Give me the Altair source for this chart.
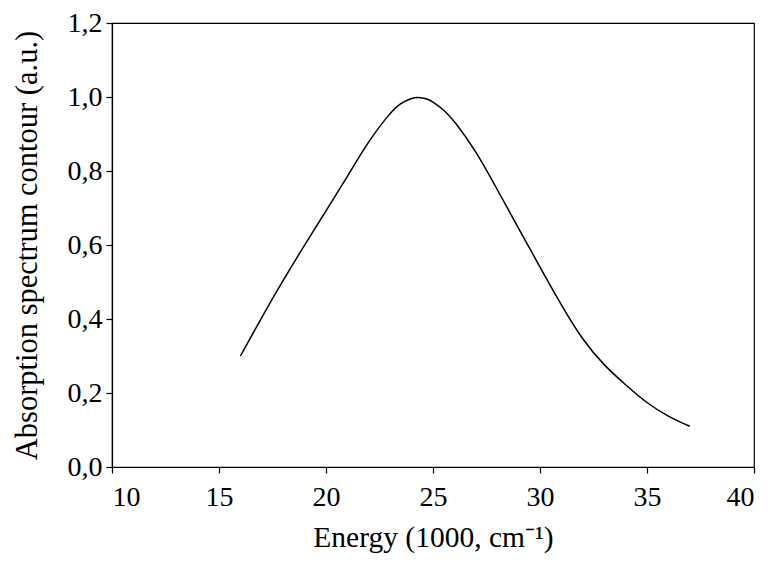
import altair as alt
import pandas as pd

energy = [16, 17, 18, 19, 20, 21, 22, 23, 23.5, 24, 24.3, 24.7, 25, 25.5, 26, 27, 28, 29, 30, 31, 32, 33, 34, 35, 36, 37]
absorb = [0.30, 0.405, 0.505, 0.60, 0.692, 0.785, 0.882, 0.958, 0.984, 0.997, 1.0, 0.996, 0.987, 0.966, 0.935, 0.855, 0.75, 0.645, 0.54, 0.437, 0.342, 0.274, 0.222, 0.172, 0.136, 0.11]

df = pd.DataFrame({"energy": energy, "absorb": absorb})

FONT = "Liberation Serif"

chart = alt.Chart(df).mark_line(color="black", strokeWidth=1.5, interpolate="basis").encode(
    x=alt.X("energy:Q",
            scale=alt.Scale(domain=[10, 40], nice=False, zero=False),
            axis=alt.Axis(values=[10, 15, 20, 25, 30, 35, 40], title="Energy (1000, cm⁻¹)",
                          grid=False, labelFontSize=28, titleFontSize=29.5, titlePadding=12,
                          labelPadding=10, tickSize=6)),
    y=alt.Y("absorb:Q",
            scale=alt.Scale(domain=[0, 1.2], nice=False),
            axis=alt.Axis(values=[0, 0.2, 0.4, 0.6, 0.8, 1.0, 1.2],
                          labelExpr="replace(format(datum.value, '.1f'), '.', ',')",
                          title="Absorption spectrum contour (a.u.)",
                          grid=False, labelFontSize=28, titleFontSize=30.5, titlePadding=25,
                          labelPadding=4, tickSize=6)),
).properties(
    width=642, height=444,
    autosize=alt.AutoSizeParams(type="none"),
    padding={"left": 104, "top": 15, "right": 12, "bottom": 97},
).configure_axis(
    labelFont=FONT, titleFont=FONT, labelColor="black", titleColor="black",
    domainColor="black", tickColor="black", titleFontWeight="normal", domainWidth=1.2, tickWidth=1.2,
).configure_view(
    stroke="black", strokeWidth=1.2
)

chart.save("out.html", embed_options={"renderer": "svg", "actions": False})
